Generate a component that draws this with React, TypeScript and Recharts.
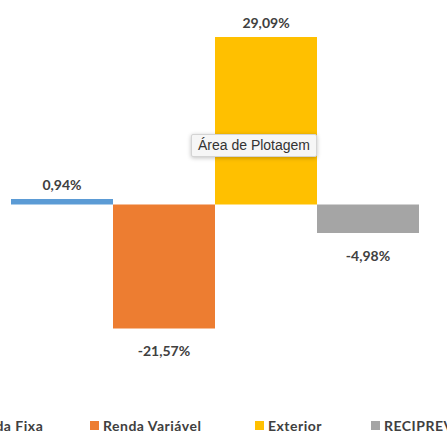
import { BarChart, Bar, XAxis, YAxis, LabelList } from 'recharts';

const categories = ['Renda Fixa', 'Renda Variável', 'Exterior', 'RECIPREV'];
const seriesKeys = ['rendaFixa', 'rendaVariavel', 'exterior', 'reciprev'];
const values = [0.94, -21.57, 29.09, -4.98];
const colors = ['#5B9BD5', '#ED7D31', '#FFC000', '#A5A5A5'];

const data = [
  seriesKeys.reduce((row: any, k, i) => {
    row[k] = values[i];
    return row;
  }, { name: '' }),
];

// legend square x positions (legend is clipped on both sides in the original)
const legendLeft = [-43, 90, 255, 371];

const fmt = (v: number) => v.toFixed(2).replace('.', ',') + '%';

function ValueLabel(props: any) {
  const { x, y, width, height, value } = props;
  const top = Math.min(y, y + height);
  const bottom = Math.max(y, y + height);
  const ty = value >= 0 ? top - 9 : bottom + 28;
  return (
    <text
      x={x + width / 2}
      y={ty}
      textAnchor="middle"
      fill="#404040"
      fontSize={14}
      fontWeight={700}
      fontFamily="Lato, 'Open Sans', sans-serif"
    >
      {fmt(value)}
    </text>
  );
}

export default function App() {
  return (
    <div style={{ position: 'absolute', left: 0, top: 0, width: 447, height: 434, background: '#fff', overflow: 'hidden' }}>
      <BarChart
        width={447}
        height={434}
        data={data}
        margin={{ top: 3, right: 27, bottom: 57, left: 11 }}
        barCategoryGap={0}
        barGap={0}
      >
        <XAxis dataKey="name" hide />
        <YAxis hide domain={[-30, 35]} />
        {seriesKeys.map((k, i) => (
          <Bar key={k} dataKey={k} name={categories[i]} fill={colors[i]} isAnimationActive={false}>
            <LabelList dataKey={k} content={ValueLabel} />
          </Bar>
        ))}
      </BarChart>

      {/* Excel hover hint */}
      <div
        style={{
          position: 'absolute',
          left: 191,
          top: 134,
          width: 124,
          height: 21,
          background: '#f6f6f6',
          border: '1px solid #d4d4d4',
          borderRadius: 2,
          boxShadow: '0 1px 4px rgba(0,0,0,0.25)',
          fontFamily: "'Liberation Sans', Arial, sans-serif",
          fontSize: 14,
          color: '#333',
          lineHeight: '21px',
          textAlign: 'center',
          whiteSpace: 'nowrap',
        }}
      >
        Área de Plotagem
      </div>

      {categories.map((c, i) => (
        <div
          key={c}
          style={{
            position: 'absolute',
            left: legendLeft[i],
            top: 418,
            height: 15,
            display: 'flex',
            alignItems: 'center',
            whiteSpace: 'nowrap',
            fontFamily: "Lato, 'Open Sans', sans-serif",
            fontWeight: 700,
            fontSize: 14,
            lineHeight: '15px',
            letterSpacing: 0.5,
            color: '#404040',
          }}
        >
          <span style={{ display: 'inline-block', width: 9, height: 9, background: colors[i], marginRight: 4 }} />
          <span>{c}</span>
        </div>
      ))}
    </div>
  );
}
